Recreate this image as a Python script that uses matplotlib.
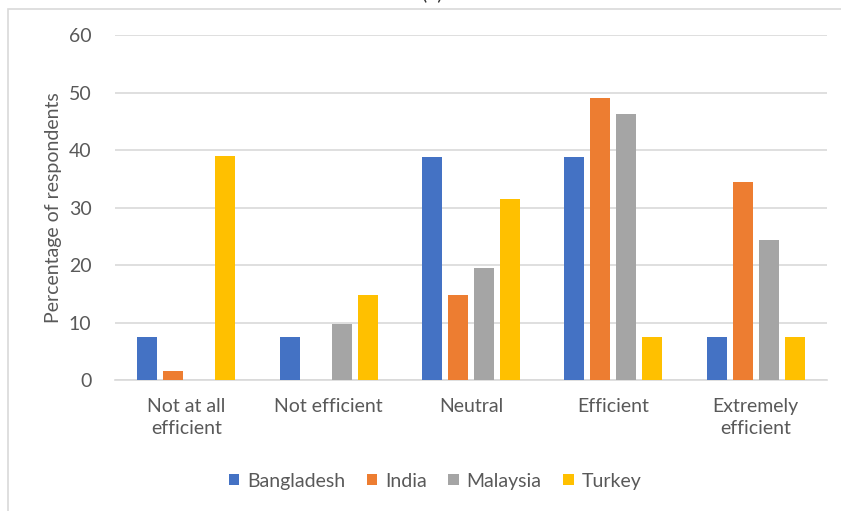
import numpy as np
import matplotlib.pyplot as plt
from matplotlib.patches import Rectangle

plt.rcParams['font.family'] = ['Lato', 'DejaVu Sans']

categories = ['Not at all\nefficient', 'Not efficient', 'Neutral', 'Efficient', 'Extremely\nefficient']
countries = ['Bangladesh', 'India', 'Malaysia', 'Turkey']
bangladesh = [7.4, 7.4, 38.8, 38.8, 7.4]
india = [1.5, 0, 14.7, 49.1, 34.4]
malaysia = [0, 9.8, 19.5, 46.3, 24.4]
turkey = [38.9, 14.8, 31.5, 7.4, 7.4]
colors = ['#4472C4', '#ED7D31', '#A5A5A5', '#FFC000']

text_color = '#595959'
grid_color = '#D9D9D9'

fig = plt.figure(figsize=(8.41, 5.11), dpi=100)
ax = fig.add_axes([115 / 841, 1 - 380 / 511, 712 / 841, 345 / 511])

# light chart frame, Excel style
fig.patches.append(Rectangle((8 / 841, -0.1), 1.0, 1 - 9 / 511 + 0.1,
                             transform=fig.transFigure, fill=False,
                             edgecolor=grid_color, linewidth=1.2))

x = np.arange(len(categories))
pitch = 26 / 142.4
width = 20 / 142.4
series = [bangladesh, india, malaysia, turkey]
for i, (name, vals) in enumerate(zip(countries, series)):
    ax.bar(x + (i - 1.5) * pitch, vals, width, color=colors[i], label=name, zorder=3)

ax.set_xlim(-0.5, len(categories) - 0.5)
ax.set_ylim(0, 60)
ax.set_yticks(range(0, 61, 10))
ax.set_xticks(x)
ax.set_xticklabels(categories, fontsize=14, color=text_color, linespacing=1.35)
ax.tick_params(axis='y', labelsize=14, labelcolor=text_color, length=0, pad=17)
ax.tick_params(axis='x', length=0, pad=13)
ax.yaxis.grid(True, color=grid_color, linewidth=1.2, zorder=0)
for s in ['top', 'right', 'left']:
    ax.spines[s].set_visible(False)
ax.spines['bottom'].set_color(grid_color)
ax.spines['bottom'].set_linewidth(1.2)

ax.set_ylabel('Percentage of respondents', fontsize=14, color=text_color, labelpad=5)

fig.legend(loc='center', bbox_to_anchor=(435 / 841, 1 - 481 / 511), ncol=4,
           frameon=False, fontsize=14, labelcolor=text_color,
           handlelength=0.55, handleheight=0.55, handletextpad=0.4, columnspacing=1.1)

# panel title, mostly cut off at the top of the image (as in the reference)
fig.text(432 / 841, 1 + 1 / 511, '(b)', fontsize=14, color='#333333', ha='center', va='baseline')

fig.savefig('out.png', dpi=100)
